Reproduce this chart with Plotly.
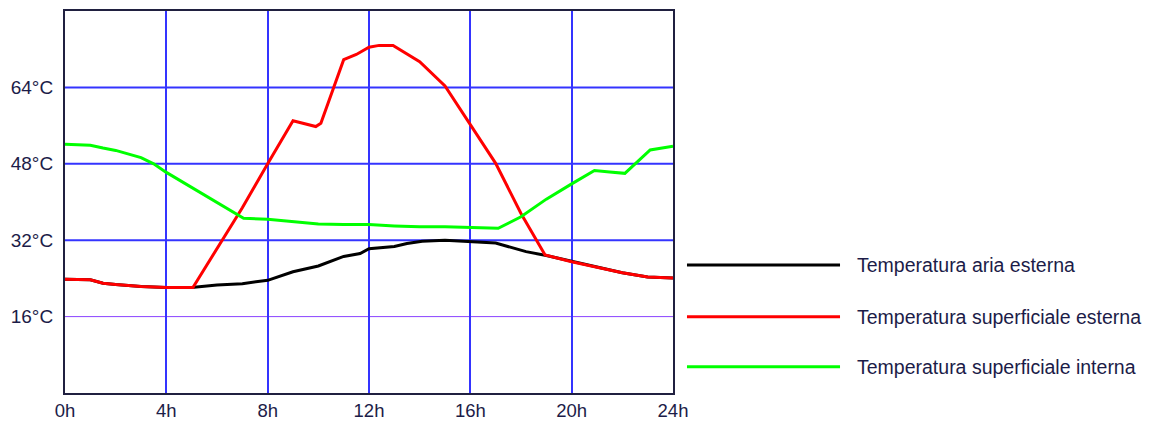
import plotly.graph_objects as go

# Ore del giorno e temperature (°C)
hours_aria = [0, 1, 1.5, 2, 3, 4, 5, 6, 7, 7.5, 8, 9, 10, 11, 11.65, 12, 13, 13.5, 14.1,
              15, 16, 17, 18.2, 19, 20, 21, 21.6, 22, 23, 24]
temp_aria = [23.8, 23.7, 23.0, 22.7, 22.3, 22.1, 22.1, 22.6, 22.9, 23.2, 23.6, 25.4, 26.6,
             28.6, 29.2, 30.2, 30.7, 31.3, 31.8, 32.0, 31.7, 31.4, 29.6, 28.8, 27.6, 26.4,
             25.7, 25.2, 24.3, 24.1]

hours_sup_est = [0, 1, 1.5, 2, 3, 4, 5.05, 6, 7, 8, 9, 9.9, 10.1, 11, 11.5, 12, 12.4, 12.95,
                 14, 15, 16, 17, 18, 18.95, 20, 21, 21.6, 22, 23, 24]
temp_sup_est = [23.8, 23.7, 23.0, 22.7, 22.3, 22.1, 22.1, 30.3, 38.8, 48.0, 57.0, 55.8, 56.5,
                69.8, 70.9, 72.4, 72.8, 72.8, 69.4, 64.3, 56.3, 48.1, 37.6, 28.9, 27.5,
                26.4, 25.7, 25.2, 24.3, 24.1]

hours_sup_int = [0, 1, 1.5, 2, 3, 3.5, 4, 5, 6, 7.05, 8, 9, 10, 11, 12, 13, 14, 15, 16,
                 17.1, 18, 19, 20, 20.9, 21.5, 22.1, 23.1, 24]
temp_sup_int = [52.1, 51.9, 51.3, 50.8, 49.3, 48.0, 46.2, 43.0, 39.8, 36.6, 36.4, 35.9, 35.4,
                35.3, 35.3, 35.0, 34.8, 34.8, 34.6, 34.5, 36.9, 40.6, 43.8, 46.6, 46.3,
                46.0, 50.9, 51.7]

series_names = ["Temperatura aria esterna",
                "Temperatura superficiale esterna",
                "Temperatura superficiale interna"]
series_colors = ["#000000", "#ff0000", "#00ff00"]

x_ticks = [0, 4, 8, 12, 16, 20, 24]
y_ticks = [16, 32, 48, 64]

FONT = "Liberation Sans, Arial, sans-serif"
TEXT = "#1c1c48"
GRID = "#3434ff"

fig = go.Figure()
for hx, ty, name, col in zip([hours_aria, hours_sup_est, hours_sup_int],
                             [temp_aria, temp_sup_est, temp_sup_int],
                             series_names, series_colors):
    fig.add_trace(go.Scatter(x=hx, y=ty, mode="lines", name=name,
                             line=dict(color=col, width=3), showlegend=False))

# horizontal grid lines (the lowest one is thin and violet)
for v in y_ticks:
    if v == 16:
        fig.add_shape(type="line", xref="paper", yref="y", x0=0, x1=1, y0=v, y1=v,
                      line=dict(color="#8a44ff", width=1), layer="below")
    else:
        fig.add_shape(type="line", xref="paper", yref="y", x0=0, x1=1, y0=v, y1=v,
                      line=dict(color=GRID, width=2), layer="below")

# legend drawn at the right of the plot
legend_y = [0.3351, 0.1997, 0.0688]
for name, col, ly in zip(series_names, series_colors, legend_y):
    fig.add_shape(type="line", xref="paper", yref="paper", x0=1.023, x1=1.2747,
                  y0=ly, y1=ly, line=dict(color=col, width=3))
    fig.add_annotation(xref="paper", yref="paper", x=1.2993, y=ly, text=name,
                       showarrow=False, xanchor="left", yanchor="middle",
                       font=dict(family=FONT, size=19.5, color=TEXT))

fig.update_xaxes(range=[0, 24], tickvals=x_ticks, ticktext=[f"{h}h" for h in x_ticks],
                 showgrid=True, gridcolor=GRID, gridwidth=2, zeroline=False,
                 showline=True, mirror=True, linecolor="#202040", linewidth=2,
                 ticks="", ticklabelstandoff=0, automargin=False,
                 tickfont=dict(family=FONT, size=18.5, color=TEXT))
fig.update_yaxes(range=[0, 80], tickvals=y_ticks, ticktext=[f"{v}°C" for v in y_ticks],
                 showgrid=False, zeroline=False,
                 showline=True, mirror=True, linecolor="#202040", linewidth=2,
                 ticks="", ticklabelstandoff=6, automargin=False,
                 tickfont=dict(family=FONT, size=19, color=TEXT))

fig.update_layout(width=1155, height=424,
                  margin=dict(l=65, r=482, t=11, b=31, autoexpand=False),
                  paper_bgcolor="white", plot_bgcolor="white",
                  showlegend=False)

fig.write_html("out.html")
